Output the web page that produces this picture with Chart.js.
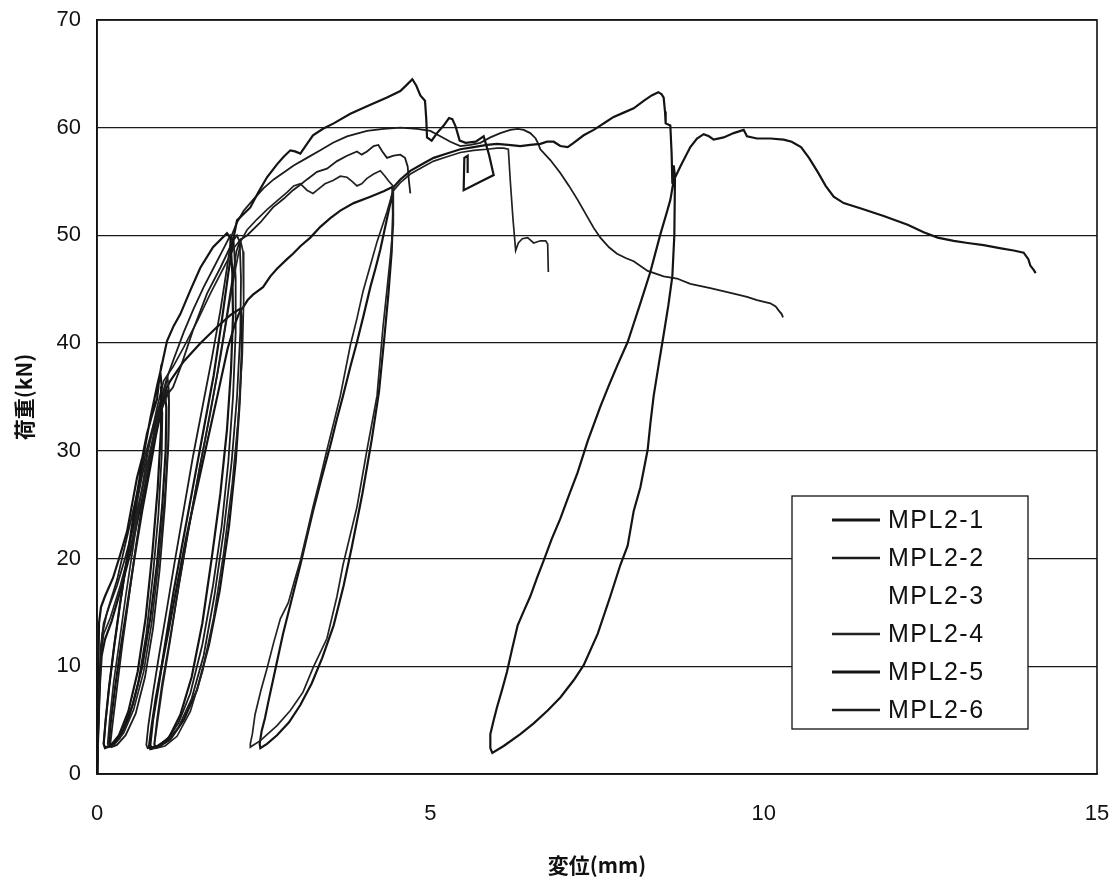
<!DOCTYPE html>
<html lang="ja">
<head>
<meta charset="utf-8">
<title>荷重-変位曲線</title>
<script src="https://cdn.jsdelivr.net/npm/chart.js@4.4.1/dist/chart.umd.min.js"></script>
<style>
html,body{margin:0;padding:0;background:#fff;}
#wrap{width:1117px;height:882px;}
</style>
</head>
<body>
<div id="wrap"><canvas id="c" width="1117" height="882"></canvas></div>
<script>
// Axis ticks
const xTicks = [0, 5, 10, 15];
const yTicks = [0, 10, 20, 30, 40, 50, 60, 70];
const seriesNames = ['MPL2-1', 'MPL2-2', 'MPL2-3', 'MPL2-4', 'MPL2-5', 'MPL2-6'];

// Load-displacement records: [displacement (mm), load (kN)]
const mpl2_1 = [
  [0,0],[0.01,4],[0.02,9],[0.03,14],[0.06,15.5],[0.12,16.5],[0.24,18.2],[0.35,20.4],[0.45,22.5],[0.54,25.5],[0.6,27.5],[0.68,29.4],[0.75,31.6],[0.82,33.2],[0.9,34.8],[0.93,36.5],[0.95,37.3],
  [0.97,36],[0.96,32],[0.91,26.5],[0.83,20.5],[0.73,14.5],[0.61,9.5],[0.47,5.8],[0.33,3.6],[0.2,2.6],[0.12,2.4],
  [0.1,2.8],[0.13,5],[0.18,8],[0.26,12],[0.35,16],[0.45,20],[0.56,24.5],[0.68,29],[0.8,33],[0.9,36],[0.96,37.6],
  [1.05,40.2],[1.15,41.6],[1.25,42.7],[1.4,44.9],[1.55,47],[1.74,48.9],[1.95,50.2],
  [2.0,49.8],[2.03,46.5],[2.04,42.5],[2.01,37.5],[1.95,32],[1.85,26],[1.72,20],[1.58,14],[1.42,9],[1.25,5.5],[1.08,3.4],[0.92,2.6],[0.82,2.4],
  [0.8,2.7],[0.84,5],[0.92,8],[1.02,12],[1.15,17],[1.3,22],[1.45,27],[1.6,32],[1.75,37],[1.87,42],[1.97,46.5],[2.04,49.5],
  [2.1,51.4],[2.3,52.6],[2.42,54],[2.55,55.4],[2.7,56.6],[2.8,57.3],[2.9,57.9],[2.97,57.8],[3.05,57.6],[3.15,58.5],[3.24,59.3],[3.39,59.9],[3.55,60.4],[3.8,61.3],[4.05,62],[4.35,62.8],[4.55,63.4],[4.65,64],[4.73,64.5],[4.79,63.9],[4.85,63],[4.92,62.5],[4.94,60.7],[4.95,59.1],[5.02,58.8],[5.1,59.5],[5.2,60.2],[5.28,60.9],[5.33,60.8],[5.38,60.1],[5.44,58.8],[5.53,58.6],[5.68,58.7],[5.8,59.2],[5.88,57.5],[5.95,55.6],[5.72,54.9],[5.5,54.2],[5.51,57.2],[5.56,57.4],[5.56,55.8]
];

const mpl2_2 = [
  [0,0],[0.02,5],[0.05,10],[0.08,13],[0.15,15],[0.3,18],[0.45,22],[0.6,26],[0.72,29.5],[0.85,32.5],[0.98,34.8],[1.06,35.6],
  [1.08,34.5],[1.07,30.5],[1.02,25],[0.94,19],[0.84,13.5],[0.72,9],[0.58,5.6],[0.43,3.6],[0.3,2.7],[0.22,2.5],
  [0.2,2.8],[0.24,5],[0.3,8],[0.38,12],[0.48,16.5],[0.58,21],[0.7,26],[0.83,30.5],[0.95,33.5],[1.05,35.2],
  [1.14,35.9],[1.25,37.7],[1.44,41.2],[1.65,44.6],[1.85,47],[1.95,48.3],[2.04,49.5],[2.1,50],
  [2.14,49.4],[2.16,46],[2.15,41],[2.1,35],[2.02,29],[1.9,22.5],[1.76,16.5],[1.6,11],[1.42,7],[1.22,4.3],[1.02,2.9],[0.88,2.5],
  [0.86,2.8],[0.9,5],[0.98,8.5],[1.08,12],[1.2,16.5],[1.34,21.5],[1.5,27],[1.65,32],[1.8,37],[1.92,41.5],[2.02,45.5],[2.09,48.5],[2.15,49.6],
  [2.25,50],[2.45,51.2],[2.64,52.6],[2.8,53.4],[2.94,54.2],[3.05,54.7],[3.15,55.2],[3.3,55.9],[3.45,56.2],[3.6,56.9],[3.75,57.4],[3.9,57.8],[3.97,57.5],[4.05,57.8],[4.15,58.3],[4.22,58.4],[4.28,57.8],[4.35,57.2],[4.45,57.4],[4.55,57.5],[4.62,57.2],[4.66,56.4],[4.68,55],[4.7,53.9]
];

const mpl2_3 = [];

const mpl2_4 = [
  [0,0],[0.03,6],[0.06,11],[0.1,13],[0.2,14.5],[0.35,17.5],[0.5,21],[0.65,25.5],[0.8,30],[0.95,34],[1.06,36.8],
  [1.08,35.5],[1.07,31],[1.02,26],[0.93,20],[0.82,14],[0.7,9.5],[0.55,6],[0.4,3.8],[0.26,2.7],[0.18,2.5],
  [0.16,2.8],[0.19,5],[0.25,8.5],[0.33,12],[0.43,16.5],[0.54,21],[0.66,26],[0.78,30.5],[0.9,34],[1.0,36.5],
  [1.14,37.8],[1.3,39.6],[1.5,42],[1.7,44.6],[1.9,47],[2.05,48.8],[2.15,49.6],
  [2.19,48.5],[2.2,44],[2.18,39],[2.12,33],[2.03,27],[1.9,20.5],[1.75,14.5],[1.58,9.5],[1.4,5.8],[1.2,3.5],[1.02,2.6],[0.88,2.4],
  [0.86,2.7],[0.9,4.5],[0.98,8],[1.1,12.5],[1.24,18],[1.38,23],[1.54,28.5],[1.7,33.5],[1.86,39],[1.98,43.5],[2.08,47],[2.16,49.5],
  [2.25,50.5],[2.4,51.5],[2.55,52.4],[2.7,53.2],[2.85,54],[2.95,54.6],[3.05,54.8],[3.15,54.2],[3.24,53.9],[3.32,54.3],[3.42,54.8],[3.54,55.1],[3.65,55.5],[3.75,55.4],[3.83,55],[3.9,54.6],[3.97,54.8],[4.05,55.3],[4.15,55.7],[4.25,56],[4.32,55.5],[4.38,55],[4.44,54.6],
  [4.45,53],[4.44,51],[4.4,48],[4.35,45],[4.29,41.5],[4.2,35.1],[4.05,30.1],[3.9,24.8],[3.69,19.4],[3.6,16.5],[3.45,12.6],[3.24,9.85],[3.09,7.6],[2.9,5.9],[2.7,4.5],[2.45,3.1],[2.3,2.5],
  [2.3,2.8],[2.33,3.7],[2.37,5.5],[2.46,7.8],[2.55,9.8],[2.65,12.2],[2.75,14.4],[2.87,15.9],[2.96,17.9],[3.05,19.8],[3.15,22.4],[3.24,24.8],[3.35,27.5],[3.45,30.1],[3.55,32.6],[3.65,35.1],[3.8,39.8],[3.9,42.3],[3.99,44.8],[4.1,47.2],[4.2,49.4],[4.35,52.2],[4.44,54.1],
  [4.55,54.9],[4.7,55.7],[4.9,56.4],[5.05,56.9],[5.25,57.3],[5.45,57.7],[5.65,57.9],[5.85,58],[6.0,58.1],[6.1,58.1],[6.17,58],
  [6.2,55],[6.24,51.5],[6.28,48.6],[6.32,49.3],[6.38,49.7],[6.46,49.8],[6.55,49.3],[6.65,49.5],[6.73,49.5],[6.76,49.2],[6.77,46.6]
];

const mpl2_5 = [
  [0,0],[0.02,4],[0.04,8],[0.07,11],[0.12,12.5],[0.22,14.2],[0.35,17],[0.5,20.5],[0.66,25],[0.8,29],[0.92,32.5],[1.02,35.3],
  [1.04,34],[1.03,30],[0.98,25],[0.9,19.5],[0.8,14.5],[0.68,10],[0.54,6.5],[0.4,4.2],[0.28,3],[0.2,2.6],
  [0.18,2.9],[0.21,5],[0.27,8],[0.35,11.5],[0.45,15.5],[0.56,20],[0.68,24.5],[0.8,28.5],[0.9,32],[0.98,34.5],[1.04,35.8],
  [1.1,36.5],[1.3,38.3],[1.55,40],[1.8,41.5],[2.0,42.6],[2.15,43.2],
  [2.17,42.5],[2.17,39],[2.14,34.5],[2.08,29],[1.98,23],[1.84,17],[1.68,12],[1.5,7.8],[1.3,5],[1.1,3.2],[0.92,2.5],[0.8,2.3],
  [0.78,2.6],[0.82,4.5],[0.88,7],[0.97,10],[1.08,13.5],[1.2,17.5],[1.34,22],[1.5,26.5],[1.66,31],[1.82,35.5],[1.96,39.5],[2.07,41.8],[2.12,42.6],[2.15,43],
  [2.19,43.3],[2.26,44],[2.34,44.5],[2.49,45.2],[2.6,46.2],[2.7,46.9],[2.85,47.8],[2.94,48.3],[3.05,49],[3.2,49.8],[3.35,50.8],[3.5,51.6],[3.65,52.3],[3.85,53],[4.1,53.6],[4.3,54.1],[4.43,54.5],
  [4.44,52],[4.42,48.5],[4.37,44.5],[4.31,40.5],[4.23,35.5],[4.12,31],[3.98,26],[3.82,21],[3.7,17.5],[3.55,13.8],[3.38,10.8],[3.22,8.4],[3.05,6.4],[2.88,4.8],[2.7,3.6],[2.55,2.8],[2.45,2.4],
  [2.44,2.8],[2.47,4],[2.52,5.2],[2.58,7],[2.64,8.7],[2.72,11],[2.79,13],[2.92,16.2],[3.05,19.4],[3.14,21.8],[3.24,24.4],[3.37,27.5],[3.5,30.5],[3.6,33],[3.69,35.1],[3.8,37.8],[3.9,40.1],[4.0,42.6],[4.1,45.2],[4.18,47],[4.25,48.7],[4.33,51],[4.4,53],[4.45,54.5],
  [4.55,55.2],[4.7,56],[4.9,56.7],[5.05,57.2],[5.25,57.6],[5.45,58],[5.65,58.2],[5.85,58.4],[6.0,58.5],[6.17,58.4],[6.35,58.3],[6.5,58.4],[6.65,58.5],[6.75,58.7],[6.85,58.7],[6.95,58.3],[7.06,58.2],[7.15,58.6],[7.3,59.3],[7.45,59.8],[7.55,60.2],[7.65,60.6],[7.75,61],[7.9,61.4],[8.05,61.8],[8.2,62.5],[8.32,63],[8.42,63.3],[8.47,63.1],[8.5,62.8],[8.52,61.5],[8.53,60.4],[8.6,60.2],[8.62,57.5],[8.63,54.8],[8.65,56.5],[8.67,55.5],
  [8.66,50],[8.63,46.2],[8.57,43.5],[8.5,40.8],[8.42,37.8],[8.35,35.1],[8.3,32.5],[8.26,30.1],[8.15,26.6],[8.05,24.4],[7.96,21.2],[7.85,19.4],[7.7,16.5],[7.51,13],[7.3,10.1],[7.15,8.7],[6.95,7.1],[6.76,5.9],[6.55,4.7],[6.35,3.7],[6.1,2.6],[5.93,1.95],
  [5.9,2.4],[5.9,3.7],[5.95,5],[6.0,6.2],[6.08,7.9],[6.15,9.5],[6.23,11.7],[6.31,13.8],[6.4,15.1],[6.5,16.5],[6.6,18.2],[6.7,19.8],[6.82,21.8],[6.95,23.7],[7.08,25.9],[7.21,28],[7.36,30.9],[7.55,34.1],[7.68,36.1],[7.81,38],[7.96,40.1],[8.05,41.8],[8.15,43.7],[8.3,46.6],[8.45,50.1],[8.55,52.2],[8.6,53.3],[8.65,55.1],[8.75,56.4],[8.9,58.2],[9.0,59],[9.1,59.4],[9.18,59.2],[9.25,58.9],[9.4,59.1],[9.55,59.5],[9.7,59.8],[9.75,59.2],[9.9,59],[10.1,59],[10.3,58.9],[10.42,58.7],[10.56,58.2],[10.68,57.2],[10.81,55.9],[10.93,54.6],[11.05,53.6],[11.2,53],[11.46,52.5],[11.8,51.8],[12.16,51],[12.4,50.3],[12.61,49.8],[12.85,49.5],[13.06,49.3],[13.3,49.1],[13.56,48.8],[13.75,48.6],[13.9,48.4],[13.97,47.8],[14.0,47.2],[14.05,46.8],[14.08,46.5]
];

const mpl2_6 = [
  [0,0],[0.03,7],[0.06,12],[0.1,14],[0.18,15.5],[0.3,17.5],[0.42,20],[0.55,23],[0.68,26.5],[0.8,30],[0.9,33],[0.96,34.5],
  [0.98,33.5],[0.97,29.5],[0.92,24],[0.84,18.5],[0.74,13],[0.62,8.5],[0.48,5.2],[0.34,3.3],[0.2,2.6],[0.12,2.5],
  [0.1,2.8],[0.13,5],[0.18,8],[0.25,11.5],[0.34,15.5],[0.44,19.5],[0.55,23.5],[0.67,27.5],[0.8,31],[0.9,33.5],[0.97,35],
  [1.05,36.8],[1.15,38.5],[1.3,41],[1.45,43.2],[1.6,45.2],[1.75,47],[1.9,48.8],[2.0,50],
  [2.05,49.5],[2.08,46],[2.08,41],[2.04,35],[1.97,29],[1.87,23],[1.74,17.5],[1.58,12],[1.4,7.5],[1.22,4.7],[1.05,3.2],[0.9,2.6],[0.76,2.4],
  [0.74,2.7],[0.77,4.5],[0.84,7.5],[0.93,11],[1.04,15],[1.16,19.5],[1.3,24.5],[1.44,29.5],[1.58,34],[1.72,38.5],[1.85,43],[1.95,47],[2.02,50],
  [2.1,51.2],[2.2,52.3],[2.34,53.3],[2.5,54.4],[2.65,55.2],[2.79,55.8],[2.95,56.5],[3.15,57.2],[3.35,57.9],[3.54,58.6],[3.75,59.2],[4.05,59.7],[4.3,59.9],[4.55,60],[4.8,59.9],[5.0,59.7],[5.15,59.2],[5.3,58.7],[5.45,58.3],[5.6,58.4],[5.75,58.6],[5.9,59.1],[6.05,59.5],[6.2,59.8],[6.31,59.9],[6.4,59.8],[6.5,59.5],[6.58,59],[6.62,58.5],[6.65,58],
  [6.8,57],[6.95,55.8],[7.08,54.6],[7.21,53.3],[7.33,52],[7.45,50.7],[7.55,49.8],[7.68,48.9],[7.8,48.3],[7.93,47.9],[8.05,47.6],[8.26,46.7],[8.5,46.2],[8.7,46],[8.9,45.5],[9.2,45.1],[9.55,44.6],[9.75,44.3],[9.9,44],[10.1,43.7],[10.18,43.4],[10.23,43],[10.27,42.7],[10.29,42.4]
];

const seriesData = [mpl2_1, mpl2_2, mpl2_3, mpl2_4, mpl2_5, mpl2_6];
const lineWidths = [2.2, 1.8, 1.5, 1.7, 2.2, 1.8];
const lineColors = ['#141414', '#1c1c1c', '#ffffff', '#222222', '#141414', '#1c1c1c'];

const tickFont = { family: "'Liberation Sans', Arial, sans-serif", size: 22 };
const titleFont = { family: "'Noto Sans CJK JP', sans-serif", size: 21, weight: 'bold' };

// Keep the plot area fixed: drop the extra room the scales ask for around tick labels
function noScalePadding(s) {
  s.paddingTop = 0; s.paddingBottom = 0; s.paddingLeft = 0; s.paddingRight = 0;
}

// Outer frame of the plotting area
const frame = {
  id: 'frame',
  beforeDatasetsDraw(chart) {
    const a = chart.chartArea, ctx = chart.ctx;
    ctx.save();
    ctx.strokeStyle = '#111';
    ctx.lineWidth = 1.6;
    ctx.strokeRect(a.left, a.top, a.right - a.left, a.bottom - a.top);
    ctx.restore();
  }
};

// Boxed legend inside the plotting area, lower right
const boxLegend = {
  id: 'boxLegend',
  afterDatasetsDraw(chart) {
    const ctx = chart.ctx;
    const left = 792, top = 496, right = 1028, bottom = 729;
    ctx.save();
    ctx.fillStyle = '#fff';
    ctx.fillRect(left, top, right - left, bottom - top);
    ctx.strokeStyle = '#111';
    ctx.lineWidth = 1.3;
    ctx.strokeRect(left, top, right - left, bottom - top);
    ctx.font = "25px 'Liberation Sans', Arial, sans-serif";
    ctx.textBaseline = 'middle';
    ctx.textAlign = 'left';
    try { ctx.letterSpacing = '1.5px'; } catch (e) {}
    chart.data.datasets.forEach((ds, i) => {
      const y = 520 + i * 38;
      ctx.strokeStyle = ds.borderColor;
      ctx.lineWidth = ds.borderWidth + 0.8;
      ctx.beginPath();
      ctx.moveTo(832, y);
      ctx.lineTo(880, y);
      ctx.stroke();
      ctx.fillStyle = '#111';
      ctx.fillText(ds.label, 888, y + 1);
    });
    ctx.restore();
  }
};

new Chart(document.getElementById('c'), {
  type: 'scatter',
  data: {
    datasets: seriesNames.map((name, i) => ({
      label: name,
      data: seriesData[i].map(([x, y]) => ({ x, y })),
      showLine: true,
      borderColor: lineColors[i],
      backgroundColor: lineColors[i],
      borderWidth: lineWidths[i],
      pointRadius: 0,
      pointHoverRadius: 0,
      tension: 0,
      fill: false,
      order: name === 'MPL2-3' ? 10 : 0
    }))
  },
  options: {
    responsive: false,
    animation: false,
    devicePixelRatio: 1,
    layout: { padding: { top: 20, right: 20, left: 0, bottom: 0 } },
    plugins: { legend: { display: false }, tooltip: { enabled: false } },
    scales: {
      x: {
        type: 'linear', min: 0, max: 15,
        afterBuildTicks: s => { s.ticks = xTicks.map(v => ({ value: v })); },
        afterFit: s => { s.height = 108; noScalePadding(s); },
        grid: { display: false, drawTicks: false },
        border: { display: true, color: '#111', width: 1.6 },
        ticks: { padding: 27, color: '#111', font: tickFont, maxRotation: 0 },
        title: { display: true, text: '変位(mm)', color: '#111', font: titleFont, padding: { top: 0, bottom: 4 } }
      },
      y: {
        type: 'linear', min: 0, max: 70,
        afterBuildTicks: s => { s.ticks = yTicks.map(v => ({ value: v })); },
        afterFit: s => { s.width = 97; noScalePadding(s); },
        grid: { color: '#1a1a1a', lineWidth: 1.3, drawTicks: false },
        border: { display: true, color: '#111', width: 1.6 },
        ticks: { padding: 16, color: '#111', font: tickFont },
        title: { display: true, text: '荷重(kN)', color: '#111', font: titleFont, padding: { top: 11, bottom: 0 } }
      }
    }
  },
  plugins: [frame, boxLegend]
});
</script>
</body>
</html>
